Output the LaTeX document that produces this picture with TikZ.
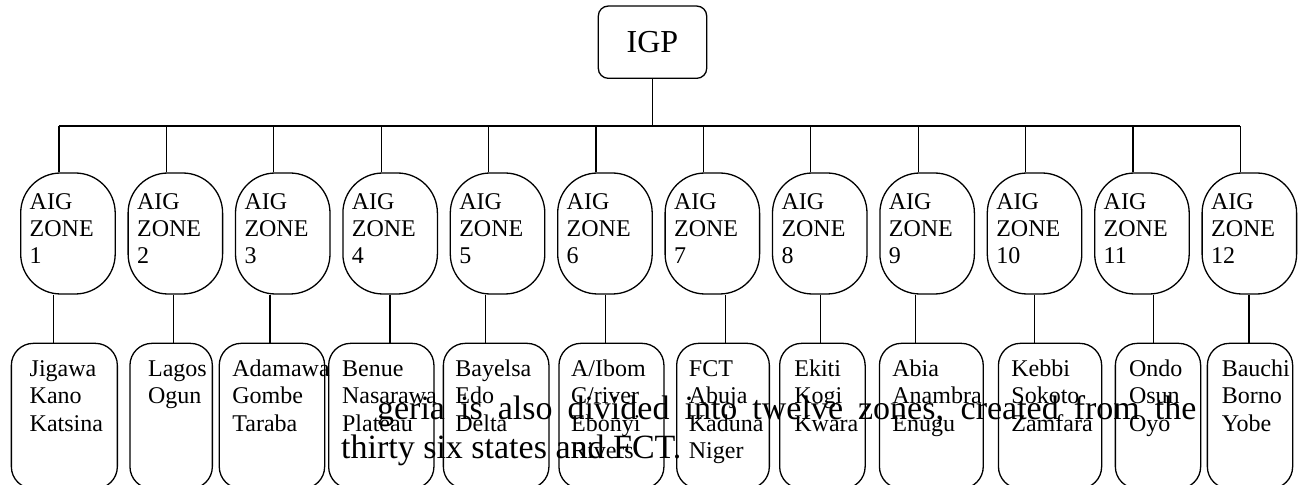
\documentclass[tikz,border=0pt]{standalone}
\usepackage{fontspec}
\setmainfont{Liberation Serif}

\tikzset{
  box/.style={draw, line width=0.65pt},
  link/.style={line width=0.65pt},
  zonebox/.style={box, rounded corners=20pt, minimum width=47.25pt, minimum height=60.5pt,
    text width=38.25pt, text depth=32pt, align=left, inner sep=0pt, font=\fontsize{12}{13.5}\selectfont},
  leafbox/.style={box, rounded corners=11pt, minimum height=72.65pt, anchor=north west, inner sep=0pt},
  leaftext/.style={anchor=base west, text width=60pt, align=left, inner sep=0pt,
    font=\fontsize{12}{13.6}\selectfont},
  bodytext/.style={anchor=base west, inner sep=0pt, font=\fontsize{17}{19}\selectfont}
}

\begin{document}
\begin{tikzpicture}[x=0.5pt,y=-0.5pt]
  \path[fill=white,use as bounding box] (0,0) rectangle (1307,485);

  \node[box, rounded corners=5pt, minimum width=54.2pt, minimum height=36.15pt,
    font=\fontsize{16}{18}\selectfont] (igp) at (652.5,42.2) {IGP};
  \coordinate (bus) at (652.3,126);
  \draw[link] (igp.south) -- (igp.south |- bus);

  % zones
  \foreach \i in {1,...,12}{
    \node[zonebox] (z\i) at ({67.95+107.4*(\i-1)},233.5) {AIG\\ZONE\\\i};
    \coordinate (t\i) at ([xshift=-4.5pt]z\i.north);
    \draw[link] (t\i) -- (t\i |- bus);
  }
  \draw[link] (t1 |- bus) -- (t12 |- bus);

  % states of each zone
  \foreach \i/\lx/\rx/\sx/\tx/\names in {
      1/10.7/116.7/53.3/29.3/{Jigawa\\Kano\\Katsina},
      2/129.3/211.7/173.3/147.7/{Lagos\\Ogun},
      3/218.6/324/270/232/{Adamawa\\Gombe\\Taraba},
      4/328/433.3/390/341.7/{Benue\\Nasarawa\\Plateau},
      5/442.7/548.3/485.7/455/{Bayelsa\\Edo\\Delta},
      6/558.3/663.3/605.7/570.7/{A/Ibom\\C/river\\Ebonyi\\Rivers},
      7/676/768.7/725.6/688.5/{FCT\\Abuja\\Kaduna\\Niger},
      8/779/864.5/820.6/794/{Ekiti\\Kogi\\Kwara},
      9/878.8/982.6/915.5/892/{Abia\\Anambra\\Enugu},
      10/997.8/1101/1034.5/1011/{Kebbi\\Sokoto\\Zamfara},
      11/1114.7/1200/1153.5/1128.6/{Ondo\\Osun\\Oyo},
      12/1206.7/1292/1248.9/1221.4/{Bauchi\\Borno\\Yobe}}{
    \node[leafbox, minimum width={(\rx-\lx)*0.5pt}] (l\i) at (\lx,342.7) {};
    \node[leaftext] (n\i) at (\tx,376.7) {\names};
    \coordinate (s\i) at (\sx,320);
    \draw[link] (s\i |- z\i.south) -- (s\i |- l\i.north);
  }

  % text of the page behind
  \node[bodytext] (para1) at (376.7,420)
    {\makebox[409.65pt][s]{geria is also divided into twelve zones, created from the}};
  \node[bodytext] (para2) at (340.7,458.3) {thirty six states and FCT.};
\end{tikzpicture}
\end{document}
